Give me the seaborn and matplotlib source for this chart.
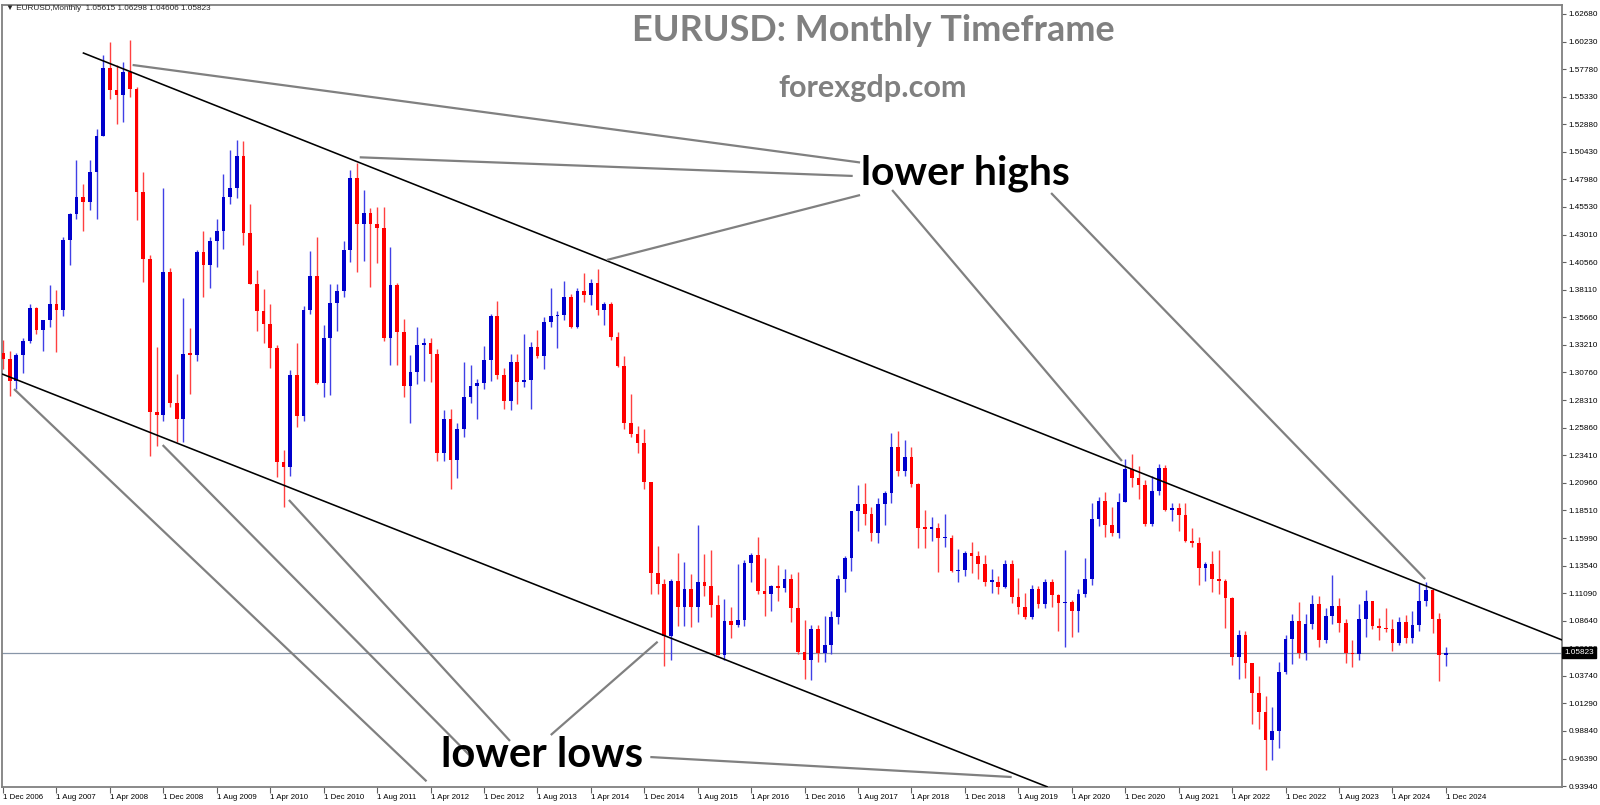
import numpy as np
import pandas as pd
import matplotlib
matplotlib.use("Agg")
import matplotlib.pyplot as plt
import seaborn as sns

# ---------------- data: EURUSD monthly candles, Dec 2006 .. Dec 2024 ----------------
months = pd.date_range("2006-12-01", "2024-12-01", freq="MS")

opens = [
    1.3246,
    1.3197, 1.2997, 1.3230, 1.3355, 1.3650, 1.3450, 1.3540, 1.3690, 1.3630, 1.4260, 1.4485, 1.4635,  # 2007
    1.4590, 1.4860, 1.5185, 1.5785, 1.5590, 1.5550, 1.5750, 1.5600, 1.4680, 1.4090, 1.2725, 1.2695,  # 2008
    1.3970, 1.2800, 1.2665, 1.3245, 1.3235, 1.4150, 1.4030, 1.4250, 1.4335, 1.4635, 1.4720, 1.5000,  # 2009
    1.4320, 1.3865, 1.3625, 1.3510, 1.3295, 1.2275, 1.2235, 1.3050, 1.2690, 1.3630, 1.3935, 1.2985,  # 2010
    1.3380, 1.3695, 1.3800, 1.4165, 1.4805, 1.4395, 1.4500, 1.4395, 1.4365, 1.3385, 1.3855, 1.3440,  # 2011
    1.2960, 1.3080, 1.3325, 1.3340, 1.3240, 1.2360, 1.2665, 1.2300, 1.2575, 1.2860, 1.2960, 1.2985,  # 2012
    1.3190, 1.3580, 1.3055, 1.2820, 1.3170, 1.2995, 1.3010, 1.3300, 1.3220, 1.3525, 1.3580, 1.3590,  # 2013
    1.3745, 1.3485, 1.3805, 1.3770, 1.3870, 1.3635, 1.3690, 1.3390, 1.3130, 1.2630, 1.2525, 1.2450,  # 2014
    1.2100, 1.1290, 1.1195, 1.0730, 1.1220, 1.0985, 1.1145, 1.0985, 1.1210, 1.1175, 1.1005, 1.0565,  # 2015
    1.0860, 1.0830, 1.0875, 1.1380, 1.1455, 1.1130, 1.1105, 1.1175, 1.1155, 1.1240, 1.0980, 1.0590,  # 2016
    1.0520, 1.0795, 1.0575, 1.0650, 1.0895, 1.1240, 1.1425, 1.1840, 1.1905, 1.1815, 1.1645, 1.1905,  # 2017
    1.2005, 1.2415, 1.2195, 1.2325, 1.2080, 1.1690, 1.1685, 1.1690, 1.1600, 1.1605, 1.1310, 1.1315,  # 2018
    1.1465, 1.1445, 1.1370, 1.1215, 1.1215, 1.1165, 1.1370, 1.1075, 1.0985, 1.0900, 1.1150, 1.1015,  # 2019
    1.1210, 1.1095, 1.1025, 1.1030, 1.0955, 1.1100, 1.1235, 1.1775, 1.1935, 1.1720, 1.1645, 1.1925,  # 2020
    1.2215, 1.2135, 1.2075, 1.1730, 1.2020, 1.2230, 1.1855, 1.1870, 1.1805, 1.1580, 1.1560, 1.1335,  # 2021
    1.1370, 1.1235, 1.1220, 1.1065, 1.0545, 1.0735, 1.0485, 1.0220, 1.0055, 0.9800, 0.9885, 1.0405,  # 2022
    1.0705, 1.0865, 1.0575, 1.0840, 1.1015, 1.0690, 1.0910, 1.0995, 1.0845, 1.0575, 1.0570, 1.0885,  # 2023
    1.1040, 1.0815, 1.0805, 1.0790, 1.0665, 1.0850, 1.0710, 1.0825, 1.1045, 1.1135, 1.0885, 1.05615, # 2024
]
highs = [
    1.3367,
    1.3265, 1.3250, 1.3385, 1.3682, 1.3660, 1.3545, 1.3852, 1.3810, 1.4280, 1.4500, 1.4965, 1.4750,
    1.4970, 1.5240, 1.5905, 1.6018, 1.5815, 1.5845, 1.6038, 1.5620, 1.4865, 1.4125, 1.3300, 1.4720,
    1.4005, 1.3060, 1.3740, 1.3470, 1.4165, 1.4340, 1.4280, 1.4445, 1.4845, 1.5060, 1.5145, 1.5140,
    1.4580, 1.3990, 1.3815, 1.3690, 1.3325, 1.2390, 1.3100, 1.3335, 1.3670, 1.4160, 1.4280, 1.3500,
    1.3860, 1.3860, 1.4250, 1.4880, 1.4940, 1.4700, 1.4540, 1.4550, 1.4550, 1.4195, 1.3870, 1.3550,
    1.3235, 1.3485, 1.3385, 1.3385, 1.3285, 1.2745, 1.2750, 1.2625, 1.3170, 1.3140, 1.3015, 1.3310,
    1.3600, 1.3710, 1.3115, 1.3245, 1.3240, 1.3415, 1.3345, 1.3450, 1.3570, 1.3830, 1.3620, 1.3895,
    1.3775, 1.3825, 1.3965, 1.3905, 1.3995, 1.3700, 1.3700, 1.3435, 1.3220, 1.2885, 1.2600, 1.2570,
    1.2105, 1.1535, 1.1240, 1.1240, 1.1465, 1.1385, 1.1280, 1.1715, 1.1460, 1.1495, 1.1095, 1.1060,
    1.0985, 1.1375, 1.1410, 1.1465, 1.1615, 1.1425, 1.1185, 1.1365, 1.1325, 1.1280, 1.1300, 1.0875,
    1.0830, 1.0830, 1.0905, 1.0950, 1.1270, 1.1445, 1.1845, 1.2070, 1.2090, 1.1880, 1.1960, 1.2025,
    1.2535, 1.2555, 1.2475, 1.2415, 1.2095, 1.1850, 1.1790, 1.1735, 1.1815, 1.1625, 1.1500, 1.1485,
    1.1570, 1.1490, 1.1450, 1.1325, 1.1265, 1.1410, 1.1410, 1.1250, 1.1110, 1.1180, 1.1175, 1.1240,
    1.1240, 1.1100, 1.1495, 1.1050, 1.1150, 1.1420, 1.1910, 1.1965, 1.2010, 1.1880, 1.2000, 1.2310,
    1.2350, 1.2245, 1.2115, 1.2150, 1.2265, 1.2255, 1.1910, 1.1910, 1.1910, 1.1695, 1.1615, 1.1385,
    1.1485, 1.1495, 1.1235, 1.1075, 1.0785, 1.0775, 1.0490, 1.0370, 1.0200, 1.0095, 1.0495, 1.0735,
    1.0930, 1.1035, 1.0930, 1.1095, 1.1090, 1.0975, 1.1275, 1.1065, 1.0880, 1.0695, 1.1015, 1.1140,
    1.1045, 1.0890, 1.0980, 1.0885, 1.0895, 1.0915, 1.0950, 1.1200, 1.1215, 1.1145, 1.0935, 1.06298,
]
lows = [
    1.3103,
    1.2866, 1.2927, 1.3075, 1.3335, 1.3415, 1.3265, 1.3480, 1.3260, 1.3580, 1.4030, 1.4440, 1.4335,
    1.4520, 1.4440, 1.5180, 1.5510, 1.5285, 1.5305, 1.5530, 1.4435, 1.3880, 1.2330, 1.2420, 1.2640,
    1.2770, 1.2455, 1.2455, 1.2885, 1.3180, 1.3750, 1.3830, 1.4015, 1.4175, 1.4580, 1.4630, 1.4215,
    1.3860, 1.3445, 1.3335, 1.3115, 1.2145, 1.1876, 1.2150, 1.2590, 1.2640, 1.3600, 1.2970, 1.2860,
    1.2875, 1.3445, 1.3750, 1.4060, 1.3970, 1.4070, 1.3835, 1.4055, 1.3360, 1.3145, 1.3145, 1.2860,
    1.2625, 1.2975, 1.3000, 1.2995, 1.2285, 1.2290, 1.2040, 1.2135, 1.2500, 1.2800, 1.2660, 1.2925,
    1.3000, 1.3015, 1.2750, 1.2745, 1.2795, 1.2945, 1.2755, 1.3205, 1.3105, 1.3480, 1.3295, 1.3545,
    1.3475, 1.3475, 1.3705, 1.3675, 1.3585, 1.3500, 1.3365, 1.3125, 1.2570, 1.2500, 1.2360, 1.2035,
    1.1100, 1.1100, 1.0460, 1.0520, 1.0820, 1.0820, 1.0810, 1.0850, 1.1085, 1.0895, 1.0560, 1.0520,
    1.0710, 1.0810, 1.0820, 1.1215, 1.1100, 1.0910, 1.0950, 1.1045, 1.1120, 1.0850, 1.0570, 1.0350,
    1.0340, 1.0495, 1.0495, 1.0570, 1.0840, 1.1120, 1.1310, 1.1665, 1.1715, 1.1575, 1.1555, 1.1715,
    1.1915, 1.2155, 1.2155, 1.2055, 1.1510, 1.1510, 1.1575, 1.1300, 1.1525, 1.1300, 1.1215, 1.1265,
    1.1290, 1.1235, 1.1175, 1.1110, 1.1105, 1.1160, 1.1025, 1.0925, 1.0880, 1.0880, 1.0980, 1.0980,
    1.0990, 1.0775, 1.0635, 1.0725, 1.0765, 1.1080, 1.1185, 1.1710, 1.1610, 1.1620, 1.1600, 1.1920,
    1.2055, 1.1950, 1.1705, 1.1705, 1.1985, 1.1845, 1.1750, 1.1665, 1.1565, 1.1525, 1.1185, 1.1220,
    1.1120, 1.1105, 1.0805, 1.0470, 1.0350, 1.0360, 0.9950, 0.9900, 0.9535, 0.9630, 0.9730, 1.0395,
    1.0480, 1.0535, 1.0515, 1.0790, 1.0635, 1.0665, 1.0835, 1.0765, 1.0485, 1.0450, 1.0515, 1.0725,
    1.0795, 1.0695, 1.0765, 1.0600, 1.0650, 1.0665, 1.0670, 1.0775, 1.1000, 1.0760, 1.0330, 1.04606,
]
closes = [
    1.3197,
    1.2997, 1.3230, 1.3355, 1.3650, 1.3450, 1.3540, 1.3690, 1.3630, 1.4260, 1.4485, 1.4635, 1.4590,
    1.4860, 1.5185, 1.5785, 1.5590, 1.5550, 1.5750, 1.5600, 1.4680, 1.4090, 1.2725, 1.2695, 1.3970,
    1.2800, 1.2665, 1.3245, 1.3235, 1.4150, 1.4030, 1.4250, 1.4335, 1.4635, 1.4720, 1.5000, 1.4320,
    1.3865, 1.3625, 1.3510, 1.3295, 1.2275, 1.2235, 1.3050, 1.2690, 1.3630, 1.3935, 1.2985, 1.3380,
    1.3695, 1.3800, 1.4165, 1.4805, 1.4395, 1.4500, 1.4395, 1.4365, 1.3385, 1.3855, 1.3440, 1.2960,
    1.3080, 1.3325, 1.3340, 1.3240, 1.2360, 1.2665, 1.2300, 1.2575, 1.2860, 1.2960, 1.2985, 1.3190,
    1.3580, 1.3055, 1.2820, 1.3170, 1.2995, 1.3010, 1.3300, 1.3220, 1.3525, 1.3580, 1.3590, 1.3745,
    1.3485, 1.3805, 1.3770, 1.3870, 1.3635, 1.3690, 1.3390, 1.3130, 1.2630, 1.2525, 1.2450, 1.2100,
    1.1290, 1.1195, 1.0730, 1.1220, 1.0985, 1.1145, 1.0985, 1.1210, 1.1175, 1.1005, 1.0565, 1.0860,
    1.0830, 1.0875, 1.1380, 1.1455, 1.1130, 1.1105, 1.1175, 1.1155, 1.1240, 1.0980, 1.0590, 1.0520,
    1.0795, 1.0575, 1.0650, 1.0895, 1.1240, 1.1425, 1.1840, 1.1905, 1.1815, 1.1645, 1.1905, 1.2005,
    1.2415, 1.2195, 1.2325, 1.2080, 1.1690, 1.1685, 1.1690, 1.1600, 1.1605, 1.1310, 1.1315, 1.1465,
    1.1445, 1.1370, 1.1215, 1.1215, 1.1165, 1.1370, 1.1075, 1.0985, 1.0900, 1.1150, 1.1015, 1.1210,
    1.1095, 1.1025, 1.1030, 1.0955, 1.1100, 1.1235, 1.1775, 1.1935, 1.1720, 1.1645, 1.1925, 1.2215,
    1.2135, 1.2075, 1.1730, 1.2020, 1.2230, 1.1855, 1.1870, 1.1805, 1.1580, 1.1560, 1.1335, 1.1370,
    1.1235, 1.1220, 1.1065, 1.0545, 1.0735, 1.0485, 1.0220, 1.0055, 0.9800, 0.9885, 1.0405, 1.0705,
    1.0865, 1.0575, 1.0840, 1.1015, 1.0690, 1.0910, 1.0995, 1.0845, 1.0575, 1.0570, 1.0885, 1.1040,
    1.0815, 1.0805, 1.0790, 1.0665, 1.0850, 1.0710, 1.0825, 1.1045, 1.1135, 1.0885, 1.05615, 1.05823,
]

price_ticks = [1.62680, 1.60230, 1.57780, 1.55330, 1.52880, 1.50430, 1.47980, 1.45530, 1.43010,
               1.40560, 1.38110, 1.35660, 1.33210, 1.30760, 1.28310, 1.25860, 1.23410, 1.20960,
               1.18510, 1.15990, 1.13540, 1.11090, 1.08640, 1.06190, 1.03740, 1.01290, 0.98840,
               0.96390, 0.93940]
last_price = 1.05823
header = "\u25bc EURUSD,Monthly  1.05615 1.06298 1.04606 1.05823"

# channel lines (month index, price)
upper_channel = ([11.93, 233.4], [1.5923, 1.0694])
lower_channel = ([-0.15, 156.4], [1.3063, 0.9385])
# annotation pointer lines (month index, price)
high_pointers = [
    ([19.4, 128.3], [1.5814, 1.4946]),
    ([53.4, 127.2], [1.4992, 1.4826]),
    ([90.4, 128.3], [1.4078, 1.4656]),
    ([133.1, 167.5], [1.4701, 1.2288]),
    ([156.9, 212.9], [1.4674, 1.1237]),
]
low_pointers = [
    ([1.65, 63.4], [1.2929, 0.9436]),
    ([23.9, 69.8], [1.2430, 0.9670]),
    ([42.8, 75.9], [1.1941, 0.9795]),
    ([98.0, 82.0], [1.0679, 0.9848]),
    ([96.9, 151.0], [0.9652, 0.9474]),
]

# ---------------- style ----------------
sns.set_theme(style="white")
plt.rcParams["font.family"] = ["Liberation Sans", "DejaVu Sans"]

W, H = 1600, 805
fig = plt.figure(figsize=(W / 100, H / 100), dpi=100)
L, R, T, B = 2, 1562, 5, 787
ax = fig.add_axes([L / W, 1 - B / H, (R - L) / W, (B - T) / H])
ax.set_facecolor("white")

o = np.array(opens); h = np.array(highs); l = np.array(lows); c = np.array(closes)
x = np.arange(len(o))
bull = c >= o
body_col = np.where(bull, "#0000CC", "#FF0000")
wick_col = np.where(bull, "#4040E6", "#FF4040")

ax.vlines(x, l, h, colors=wick_col, linewidth=1.0, zorder=2)
body_h = np.maximum(np.abs(c - o), 0.0011)
ax.bar(x, body_h, bottom=np.minimum(o, c), width=0.56, color=body_col, linewidth=0, zorder=3)

ax.set_xlim(-0.15, 233.38)
ax.set_ylim(0.93853, 1.63481)

# current price line
ax.axhline(last_price, color="#8896A8", lw=0.9, zorder=1)

# channels
ax.plot(*upper_channel, color="black", lw=1.15, zorder=4, solid_capstyle="butt")
ax.plot(*lower_channel, color="black", lw=1.15, zorder=4, solid_capstyle="butt")
for xs, ys in high_pointers + low_pointers:
    ax.plot(xs, ys, color="#808080", lw=1.6, zorder=5, clip_on=False, solid_capstyle="butt")

# axes cosmetics
for s in ax.spines.values():
    s.set_color("#808080"); s.set_linewidth(1.3)
ax.yaxis.tick_right()
ax.set_yticks(price_ticks)
ax.set_yticklabels([f"{v:.5f}" for v in price_ticks])
ax.tick_params(axis="y", which="both", right=True, left=False, direction="out", length=3,
               width=0.8, color="#606060", labelsize=5.9, pad=1.5, labelcolor="black")
xt = list(range(0, len(months), 8))
ax.set_xticks(xt)
ax.set_xticklabels([f"1 {months[i].strftime('%b %Y')}" for i in xt], ha="left")
ax.tick_params(axis="x", which="both", bottom=True, direction="out", length=4, width=0.8,
               color="#606060", labelsize=5.7, pad=1.2, labelcolor="black")
ax.grid(False)

# price tag on axis (covers the neighbouring 1.06190 label, as in the terminal)
ax.text(1.0015, last_price, f"{last_price:.5f}", transform=ax.get_yaxis_transform(),
        ha="left", va="center", fontsize=5.9, color="white", zorder=10, clip_on=False,
        bbox=dict(boxstyle="square,pad=0.25", fc="black", ec="black"))

# header
fig.text(6 / W, 1 - 9 / H, header, fontsize=5.9, va="center", ha="left",
         family=["Liberation Sans", "DejaVu Sans"])

big = dict(family=["Lato", "DejaVu Sans"], fontweight="bold")
t_title = fig.text(873 / W, 1 - 41 / H, "EURUSD: Monthly Timeframe", color="#808080",
                   ha="center", va="baseline", fontsize=28, **big)
t_site = fig.text(873 / W, 1 - 97 / H, "forexgdp.com", color="#808080",
                  ha="center", va="baseline", fontsize=20, **big)
t_hi = fig.text(861 / W, 1 - 184 / H, "lower highs", color="black",
                ha="left", va="baseline", fontsize=30, **big)
t_lo = fig.text(441 / W, 1 - 767 / H, "lower lows", color="black",
                ha="left", va="baseline", fontsize=30, **big)

fig.canvas.draw()
rend = fig.canvas.get_renderer()
for t, target in [(t_title, 481), (t_site, 189), (t_hi, 209), (t_lo, 202)]:
    w = t.get_window_extent(rend).width
    t.set_fontsize(t.get_fontsize() * target / w)

fig.savefig("out.png", dpi=100, facecolor="white")
